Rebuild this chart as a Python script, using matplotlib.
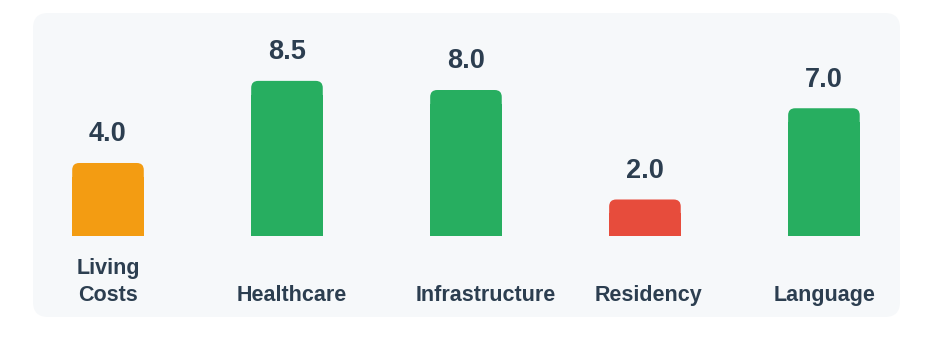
import matplotlib.pyplot as plt
from matplotlib.patches import FancyBboxPatch, Rectangle

categories = ['Living\nCosts', 'Healthcare', 'Infrastructure', 'Residency', 'Language']
scores = [4.0, 8.5, 8.0, 2.0, 7.0]
colors = ['#f39c12', '#27ae60', '#27ae60', '#e74c3c', '#27ae60']

W, H = 943, 349
fig = plt.figure(figsize=(W / 100, H / 100), dpi=100)
fig.patch.set_facecolor('white')

# rounded panel behind the chart
panel = FancyBboxPatch((33 / W, (H - 317) / H), (900 - 33) / W, (317 - 13) / H,
                       boxstyle='round,pad=0,rounding_size=0.016',
                       mutation_aspect=W / H,
                       transform=fig.transFigure, facecolor='#f6f8fa',
                       edgecolor='none', zorder=-5)
fig.patches.append(panel)

ax = fig.add_axes([33 / W, (H - 317) / H, (900 - 33) / W, (317 - 13) / H], zorder=1)
ax.set_facecolor('none')
ax.set_xlim(-0.419, 4.425)
ax.set_ylim(-4.44, 12.22)
ax.axis('off')

x = range(len(scores))
bw = 0.4
# px per data unit
sx = ax.transData.transform((1, 0))[0] - ax.transData.transform((0, 0))[0]
sy = ax.transData.transform((0, 1))[1] - ax.transData.transform((0, 0))[1]
r_px = 7
rx = r_px / sx
aspect = sx / sy

for i, v, c in zip(x, scores, colors):
    ax.add_patch(FancyBboxPatch((i - bw / 2, 0), bw, v,
                                boxstyle=f'round,pad=0,rounding_size={rx}',
                                mutation_aspect=aspect, facecolor=c,
                                edgecolor='none', zorder=2))
    ax.add_patch(Rectangle((i - bw / 2, 0), bw, v - 2 * r_px / sy,
                           facecolor=c, edgecolor='none', zorder=2))
    ax.annotate(f'{v:.1f}', xy=(i, v), xytext=(0, 15.5), textcoords='offset points',
                ha='center', va='baseline', fontsize=19.5, fontweight='bold',
                family='Liberation Sans', color='#2c3e50')

# labels sit in a ~100px slot under each bar; long words overflow to the right
renderer = fig.canvas.get_renderer()
slot = 100
for i, lab in zip(x, categories):
    t = ax.annotate(lab, xy=(i, 0), xytext=(0, -50.5), textcoords='offset points',
                    ha='center', va='bottom', fontsize=15.5, fontweight='bold',
                    family='Liberation Sans', color='#2c3e50', linespacing=1.38)
    w = t.get_window_extent(renderer).width
    if w > slot:
        t.set_position((0.72 * (w - slot) / 2, -50.5))

fig.savefig('out.png', dpi=100)
